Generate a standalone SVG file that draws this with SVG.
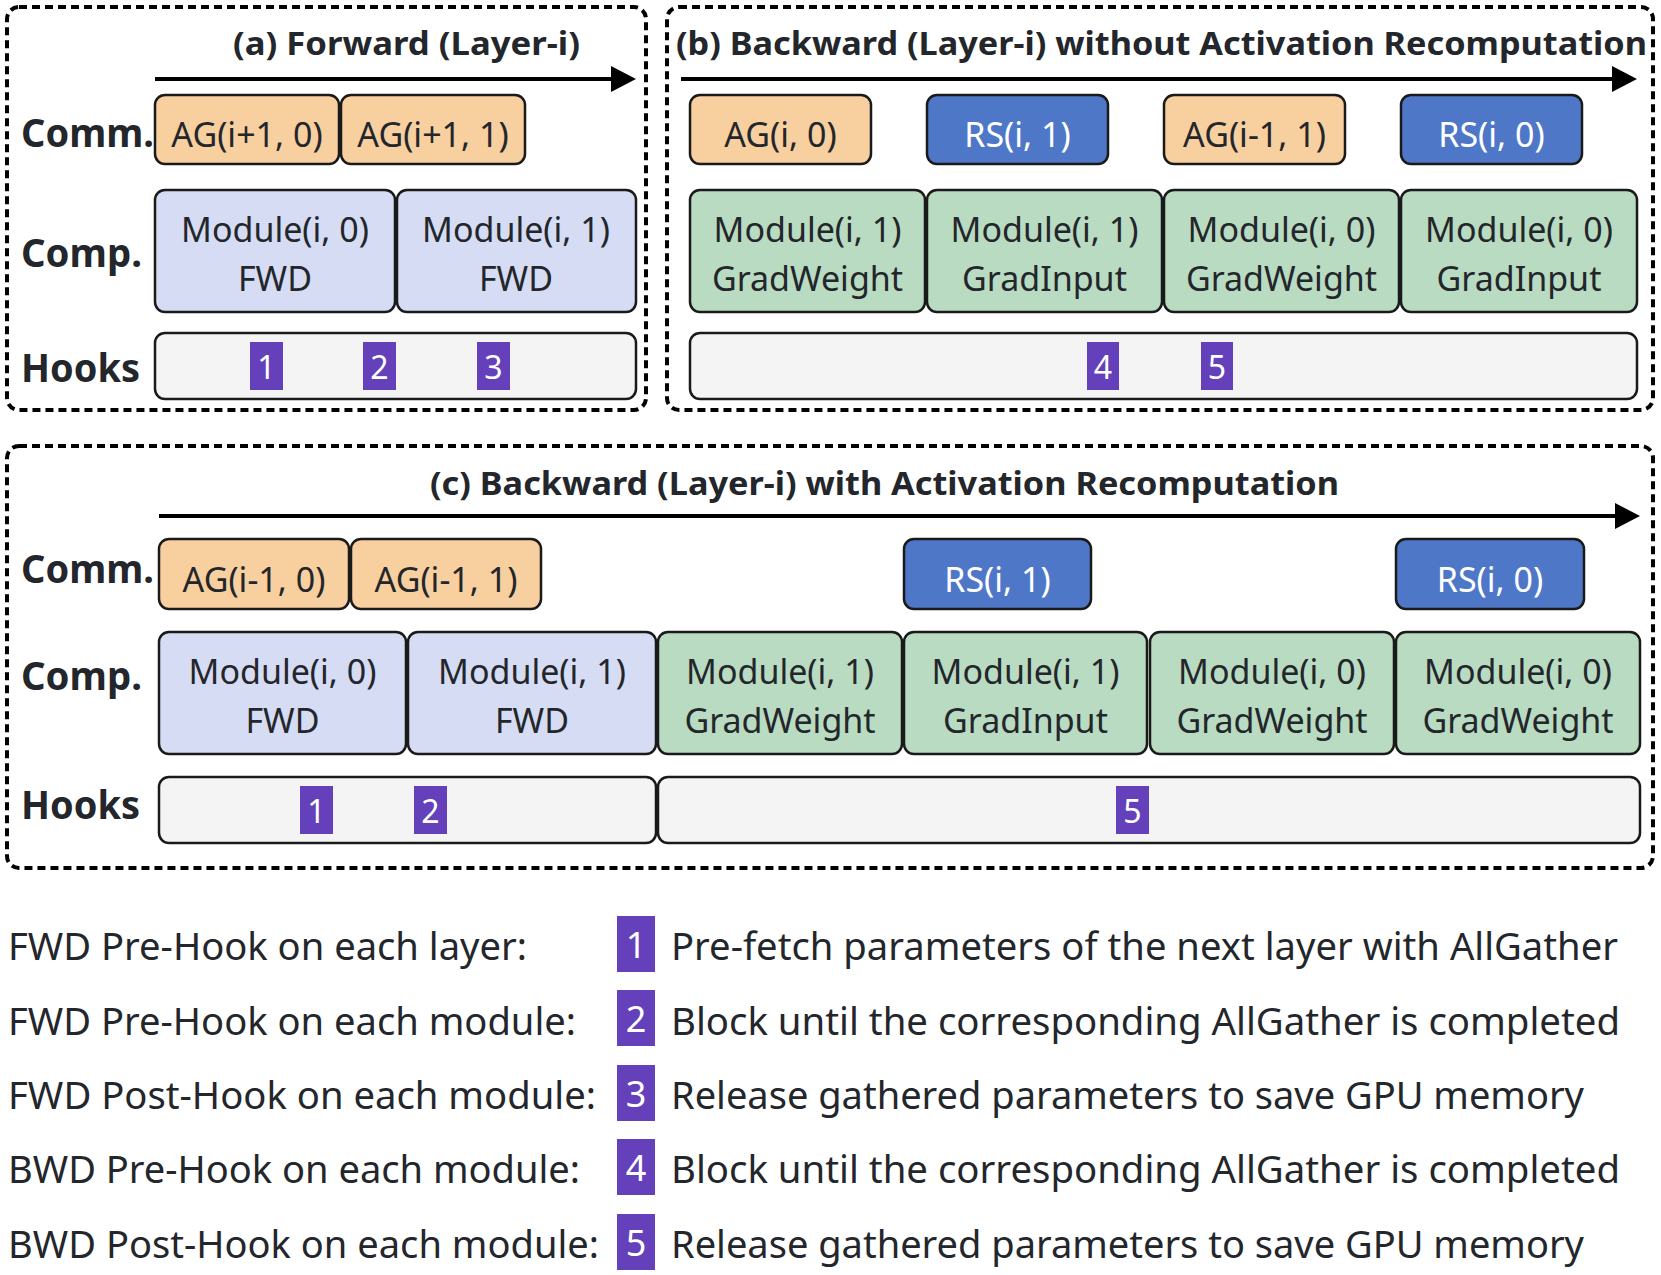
<svg xmlns="http://www.w3.org/2000/svg" width="1661" height="1275" viewBox="0 0 1661 1275">
<defs>
<marker id="ah" markerWidth="26" markerHeight="28" refX="15" refY="13" orient="auto" markerUnits="userSpaceOnUse">
<path d="M0,0 L25,13 L0,26 Z" fill="#000"/>
</marker>
<style>
.panel{fill:none;stroke:#000;stroke-width:4;stroke-dasharray:8 5}
.box{stroke:#1a1a1a;stroke-width:2.5}
.ag{fill:#F8CF9F}
.rs{fill:#4F77C8}
.fwd{fill:#D6DCF3}
.grad{fill:#B9DBC1}
.hk{fill:#F4F4F4}
.badge{fill:#6441BA}
.t{font-family:"Noto Sans","Open Sans","DejaVu Sans",sans-serif;font-size:34px;fill:#23262b;text-anchor:middle}
.tw{font-family:"Noto Sans","Open Sans","DejaVu Sans",sans-serif;font-size:34px;fill:#ffffff;text-anchor:middle}
.bn{font-family:"Noto Sans","Open Sans","DejaVu Sans",sans-serif;font-size:32px;fill:#ffffff;text-anchor:middle}
.lbl{font-family:"Noto Sans","Open Sans","DejaVu Sans",sans-serif;font-size:40px;font-weight:bold;fill:#23262b}
.title{font-family:"Noto Sans","Open Sans","DejaVu Sans",sans-serif;font-size:33px;font-weight:bold;fill:#23262b}
.leg{font-family:"Noto Sans","Open Sans","DejaVu Sans",sans-serif;font-size:38px;fill:#23262b}
.lbn{font-family:"Noto Sans","Open Sans","DejaVu Sans",sans-serif;font-size:36px;fill:#ffffff;text-anchor:middle}
.arrow{stroke:#000;stroke-width:4;fill:none}
</style>
</defs>
<rect width="1661" height="1275" fill="#ffffff"/>

<!-- Panels -->
<g id="panel-a">
<rect class="panel" x="7" y="7" width="639" height="403" rx="12"/>
<text class="title" x="233" y="55" textLength="347" lengthAdjust="spacingAndGlyphs">(a) Forward (Layer-i)</text>
<text class="lbl" x="21" y="147" textLength="133" lengthAdjust="spacingAndGlyphs">Comm.</text>
<text class="lbl" x="21" y="267" textLength="121" lengthAdjust="spacingAndGlyphs">Comp.</text>
<text class="lbl" x="21" y="382" textLength="119" lengthAdjust="spacingAndGlyphs">Hooks</text>
</g>
<g id="panel-b">
<rect class="panel" x="667" y="7" width="986" height="403" rx="12"/>
<text class="title" x="676" y="55" textLength="971" lengthAdjust="spacingAndGlyphs">(b) Backward (Layer-i) without Activation Recomputation</text>
</g>
<g id="panel-c">
<rect class="panel" x="7" y="446" width="1646" height="422" rx="12"/>
<text class="title" x="430" y="495" textLength="909" lengthAdjust="spacingAndGlyphs">(c) Backward (Layer-i) with Activation Recomputation</text>
<text class="lbl" x="21" y="583" textLength="133" lengthAdjust="spacingAndGlyphs">Comm.</text>
<text class="lbl" x="21" y="690" textLength="121" lengthAdjust="spacingAndGlyphs">Comp.</text>
<text class="lbl" x="21" y="819" textLength="119" lengthAdjust="spacingAndGlyphs">Hooks</text>
</g>

<!-- Connectors (time arrows) -->
<g id="connectors">
<line class="arrow" x1="155" y1="79" x2="626" y2="79" marker-end="url(#ah)"/>
<line class="arrow" x1="681" y1="79" x2="1627" y2="79" marker-end="url(#ah)"/>
<line class="arrow" x1="159" y1="516" x2="1630" y2="516" marker-end="url(#ah)"/>
</g>

<!-- Panel (a) nodes -->
<g id="a-ag-i1-0"><rect class="box ag" x="155" y="95" width="184" height="69" rx="10"/><text class="t" x="247" y="147">AG(i+1, 0)</text></g>
<g id="a-ag-i1-1"><rect class="box ag" x="341" y="95" width="184" height="69" rx="10"/><text class="t" x="433" y="147">AG(i+1, 1)</text></g>
<g id="a-mod-0-fwd"><rect class="box fwd" x="155" y="190" width="240" height="122" rx="10"/><text class="t" x="275" y="242">Module(i, 0)</text><text class="t" x="275" y="291">FWD</text></g>
<g id="a-mod-1-fwd"><rect class="box fwd" x="397" y="190" width="239" height="122" rx="10"/><text class="t" x="516" y="242">Module(i, 1)</text><text class="t" x="516" y="291">FWD</text></g>
<g id="a-hooks"><rect class="box hk" x="155" y="333" width="481" height="66" rx="10"/></g>
<g id="a-hook-1"><rect class="badge" x="250" y="342" width="33" height="48"/><text class="bn" x="266.5" y="379">1</text></g>
<g id="a-hook-2"><rect class="badge" x="363" y="342" width="33" height="48"/><text class="bn" x="379.5" y="379">2</text></g>
<g id="a-hook-3"><rect class="badge" x="477" y="342" width="33" height="48"/><text class="bn" x="493.5" y="379">3</text></g>

<!-- Panel (b) nodes -->
<g id="b-ag-i-0"><rect class="box ag" x="690" y="95" width="181" height="69" rx="10"/><text class="t" x="780.5" y="147">AG(i, 0)</text></g>
<g id="b-rs-i-1"><rect class="box rs" x="927" y="95" width="181" height="69" rx="10"/><text class="tw" x="1017.5" y="147">RS(i, 1)</text></g>
<g id="b-ag-im1-1"><rect class="box ag" x="1164" y="95" width="181" height="69" rx="10"/><text class="t" x="1254.5" y="147">AG(i-1, 1)</text></g>
<g id="b-rs-i-0"><rect class="box rs" x="1401" y="95" width="181" height="69" rx="10"/><text class="tw" x="1491.5" y="147">RS(i, 0)</text></g>
<g id="b-mod-1-gw"><rect class="box grad" x="690" y="190" width="235" height="122" rx="10"/><text class="t" x="807.5" y="242">Module(i, 1)</text><text class="t" x="807.5" y="291">GradWeight</text></g>
<g id="b-mod-1-gi"><rect class="box grad" x="927" y="190" width="235" height="122" rx="10"/><text class="t" x="1044.5" y="242">Module(i, 1)</text><text class="t" x="1044.5" y="291">GradInput</text></g>
<g id="b-mod-0-gw"><rect class="box grad" x="1164" y="190" width="235" height="122" rx="10"/><text class="t" x="1281.5" y="242">Module(i, 0)</text><text class="t" x="1281.5" y="291">GradWeight</text></g>
<g id="b-mod-0-gi"><rect class="box grad" x="1401" y="190" width="236" height="122" rx="10"/><text class="t" x="1519" y="242">Module(i, 0)</text><text class="t" x="1519" y="291">GradInput</text></g>
<g id="b-hooks"><rect class="box hk" x="690" y="333" width="947" height="66" rx="10"/></g>
<g id="b-hook-4"><rect class="badge" x="1087" y="342" width="32" height="48"/><text class="bn" x="1103" y="379">4</text></g>
<g id="b-hook-5"><rect class="badge" x="1201" y="342" width="32" height="48"/><text class="bn" x="1217" y="379">5</text></g>

<!-- Panel (c) nodes -->
<g id="c-ag-im1-0"><rect class="box ag" x="159" y="539" width="190" height="70" rx="10"/><text class="t" x="254" y="592">AG(i-1, 0)</text></g>
<g id="c-ag-im1-1"><rect class="box ag" x="351" y="539" width="190" height="70" rx="10"/><text class="t" x="446" y="592">AG(i-1, 1)</text></g>
<g id="c-rs-i-1"><rect class="box rs" x="904" y="539" width="187" height="70" rx="10"/><text class="tw" x="997.5" y="592">RS(i, 1)</text></g>
<g id="c-rs-i-0"><rect class="box rs" x="1396" y="539" width="188" height="70" rx="10"/><text class="tw" x="1490" y="592">RS(i, 0)</text></g>
<g id="c-mod-0-fwd"><rect class="box fwd" x="159" y="632" width="247" height="122" rx="10"/><text class="t" x="282.5" y="684">Module(i, 0)</text><text class="t" x="282.5" y="733">FWD</text></g>
<g id="c-mod-1-fwd"><rect class="box fwd" x="408" y="632" width="248" height="122" rx="10"/><text class="t" x="532" y="684">Module(i, 1)</text><text class="t" x="532" y="733">FWD</text></g>
<g id="c-mod-1-gw"><rect class="box grad" x="658" y="632" width="244" height="122" rx="10"/><text class="t" x="780" y="684">Module(i, 1)</text><text class="t" x="780" y="733">GradWeight</text></g>
<g id="c-mod-1-gi"><rect class="box grad" x="904" y="632" width="243" height="122" rx="10"/><text class="t" x="1025.5" y="684">Module(i, 1)</text><text class="t" x="1025.5" y="733">GradInput</text></g>
<g id="c-mod-0-gw"><rect class="box grad" x="1150" y="632" width="244" height="122" rx="10"/><text class="t" x="1272" y="684">Module(i, 0)</text><text class="t" x="1272" y="733">GradWeight</text></g>
<g id="c-mod-0-gw2"><rect class="box grad" x="1396" y="632" width="244" height="122" rx="10"/><text class="t" x="1518" y="684">Module(i, 0)</text><text class="t" x="1518" y="733">GradWeight</text></g>
<g id="c-hooks-fwd"><rect class="box hk" x="159" y="777" width="497" height="66" rx="10"/></g>
<g id="c-hooks-bwd"><rect class="box hk" x="658" y="777" width="982" height="66" rx="10"/></g>
<g id="c-hook-1"><rect class="badge" x="300" y="786" width="33" height="48"/><text class="bn" x="316.5" y="823">1</text></g>
<g id="c-hook-2"><rect class="badge" x="414" y="786" width="33" height="48"/><text class="bn" x="430.5" y="823">2</text></g>
<g id="c-hook-5"><rect class="badge" x="1116" y="786" width="33" height="48"/><text class="bn" x="1132.5" y="823">5</text></g>

<!-- Legend -->
<g id="legend">
<text class="leg" x="8" y="960" textLength="519" lengthAdjust="spacingAndGlyphs">FWD Pre-Hook on each layer:</text>
<text class="leg" x="8" y="1035" textLength="568" lengthAdjust="spacingAndGlyphs">FWD Pre-Hook on each module:</text>
<text class="leg" x="8" y="1109" textLength="588" lengthAdjust="spacingAndGlyphs">FWD Post-Hook on each module:</text>
<text class="leg" x="8" y="1183" textLength="572" lengthAdjust="spacingAndGlyphs">BWD Pre-Hook on each module:</text>
<text class="leg" x="8" y="1258" textLength="591" lengthAdjust="spacingAndGlyphs">BWD Post-Hook on each module:</text>

<rect class="badge" x="617" y="916" width="38" height="56"/><text class="lbn" x="636" y="958">1</text>
<rect class="badge" x="617" y="990" width="38" height="56"/><text class="lbn" x="636" y="1032">2</text>
<rect class="badge" x="617" y="1065" width="38" height="56"/><text class="lbn" x="636" y="1107">3</text>
<rect class="badge" x="617" y="1139" width="38" height="56"/><text class="lbn" x="636" y="1181">4</text>
<rect class="badge" x="617" y="1214" width="38" height="56"/><text class="lbn" x="636" y="1256">5</text>

<text class="leg" x="671" y="960" textLength="947" lengthAdjust="spacingAndGlyphs">Pre-fetch parameters of the next layer with AllGather</text>
<text class="leg" x="671" y="1035" textLength="949" lengthAdjust="spacingAndGlyphs">Block until the corresponding AllGather is completed</text>
<text class="leg" x="671" y="1109" textLength="913" lengthAdjust="spacingAndGlyphs">Release gathered parameters to save GPU memory</text>
<text class="leg" x="671" y="1183" textLength="949" lengthAdjust="spacingAndGlyphs">Block until the corresponding AllGather is completed</text>
<text class="leg" x="671" y="1258" textLength="913" lengthAdjust="spacingAndGlyphs">Release gathered parameters to save GPU memory</text>
</g>
</svg>
